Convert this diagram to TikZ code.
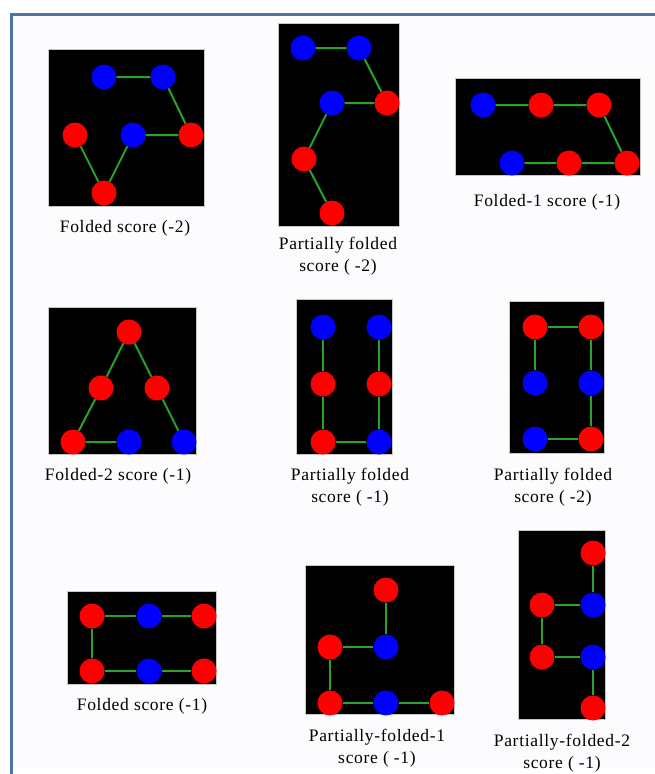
\documentclass[tikz,border=0pt]{standalone}
\usepackage{fontspec}
\setmainfont[LetterSpace=4]{Liberation Serif}
\definecolor{framblue}{RGB}{79,115,160}
\definecolor{bondgreen}{RGB}{40,165,40}
\tikzset{
  rd/.style={circle,fill=red,minimum size=25pt,inner sep=0pt},
  bl/.style={circle,fill=blue,minimum size=25pt,inner sep=0pt},
  bond/.style={bondgreen,line width=2pt},
  box/.style={fill=black,draw=gray!45,line width=1pt},
  caption/.style={align=center,font=\fontsize{17.5}{22}\selectfont}
}
\begin{document}
\begin{tikzpicture}[x=1pt,y=-1pt]
        \useasboundingbox (0,0) rectangle (655,774);
        \fill [white] (0,0) rectangle (655,774);
        \fill [blue!1] (11,14) rectangle (655,768);
        \draw [framblue,line width=3pt] (11,774) -- (11,14) -- (655,14);
        % Folded score (-2)
        \filldraw [box] (48,49) rectangle (204,206);
        \node [bl] (a1) at (104,77) {};
        \node [bl] (a2) at (163,77) {};
        \node [rd] (a3) at (191,135) {};
        \node [bl] (a4) at (133,135) {};
        \node [rd] (a5) at (104,193) {};
        \node [rd] (a6) at (75,135) {};
        \draw [bond] (a1) -- (a2) -- (a3) -- (a4) -- (a5) -- (a6);
        \node [caption] (ca) at (125,228) {Folded score (-2)};
        % Partially folded score ( -2)
        \filldraw [box] (278,23) rectangle (399,226);
        \node [bl] (b1) at (303,48) {};
        \node [bl] (b2) at (359,48) {};
        \node [rd] (b3) at (387,103) {};
        \node [bl] (b4) at (332,103) {};
        \node [rd] (b5) at (304,159) {};
        \node [rd] (b6) at (332,213) {};
        \draw [bond] (b1) -- (b2) -- (b3) -- (b4) -- (b5) -- (b6);
        \node [caption] (cb) at (338,256) {Partially folded\\score ( -2)};
        % Folded-1 score (-1)
        \filldraw [box] (455,78) rectangle (640,175);
        \node [bl] (c1) at (483,105) {};
        \node [rd] (c2) at (541,105) {};
        \node [rd] (c3) at (599,105) {};
        \node [rd] (c4) at (627,163) {};
        \node [rd] (c5) at (569,163) {};
        \node [bl] (c6) at (512,163) {};
        \draw [bond] (c1) -- (c2) -- (c3) -- (c4) -- (c5) -- (c6);
        \node [caption] (cc) at (547,202) {Folded-1 score (-1)};
        % Folded-2 score (-1)
        \filldraw [box] (48,307) rectangle (196,454);
        \node [bl] (d1) at (129,442) {};
        \node [rd] (d2) at (73,442) {};
        \node [rd] (d3) at (101,388) {};
        \node [rd] (d4) at (129,332) {};
        \node [rd] (d5) at (157,388) {};
        \node [bl] (d6) at (184,442) {};
        \draw [bond] (d1) -- (d2) -- (d3) -- (d4) -- (d5) -- (d6);
        \node [caption] (cd) at (118,476) {Folded-2 score (-1)};
        % Partially folded score ( -1)
        \filldraw [box] (296,299) rectangle (392,454);
        \node [bl] (e1) at (323,327) {};
        \node [rd] (e2) at (323,384) {};
        \node [rd] (e3) at (323,442) {};
        \node [bl] (e4) at (379,442) {};
        \node [rd] (e5) at (379,384) {};
        \node [bl] (e6) at (379,327) {};
        \draw [bond] (e1) -- (e2) -- (e3) -- (e4) -- (e5) -- (e6);
        \node [caption] (ce) at (350,487) {Partially folded\\score ( -1)};
        % Partially folded score ( -2)
        \filldraw [box] (509,301) rectangle (604,453);
        \node [bl] (f1) at (535,383) {};
        \node [rd] (f2) at (535,327) {};
        \node [rd] (f3) at (591,327) {};
        \node [bl] (f4) at (591,383) {};
        \node [rd] (f5) at (591,439) {};
        \node [bl] (f6) at (535,439) {};
        \draw [bond] (f1) -- (f2) -- (f3) -- (f4) -- (f5) -- (f6);
        \node [caption] (cf) at (553,487) {Partially folded\\score ( -2)};
        % Folded score (-1)
        \filldraw [box] (67,591) rectangle (216,684);
        \node [rd] (g1) at (204,616) {};
        \node [bl] (g2) at (149,616) {};
        \node [rd] (g3) at (92,616) {};
        \node [rd] (g4) at (92,671) {};
        \node [bl] (g5) at (149,671) {};
        \node [rd] (g6) at (204,671) {};
        \draw [bond] (g1) -- (g2) -- (g3) -- (g4) -- (g5) -- (g6);
        \node [caption] (cg) at (142,706) {Folded score (-1)};
        % Partially-folded-1 score ( -1)
        \filldraw [box] (305,565) rectangle (454,714);
        \node [rd] (h1) at (386,590) {};
        \node [bl] (h2) at (386,647) {};
        \node [rd] (h3) at (330,647) {};
        \node [rd] (h4) at (330,703) {};
        \node [bl] (h5) at (386,703) {};
        \node [rd] (h6) at (442,703) {};
        \draw [bond] (h1) -- (h2) -- (h3) -- (h4) -- (h5) -- (h6);
        \node [caption] (ch) at (377,748) {Partially-folded-1\\score ( -1)};
        % Partially-folded-2 score ( -1)
        \filldraw [box] (518,530) rectangle (605,719);
        \node [rd] (k1) at (593,553) {};
        \node [bl] (k2) at (593,605) {};
        \node [rd] (k3) at (542,605) {};
        \node [rd] (k4) at (542,657) {};
        \node [bl] (k5) at (593,657) {};
        \node [rd] (k6) at (593,708) {};
        \draw [bond] (k1) -- (k2) -- (k3) -- (k4) -- (k5) -- (k6);
        \node [caption] (ck) at (562,753) {Partially-folded-2\\score ( -1)};
\end{tikzpicture}
\end{document}
